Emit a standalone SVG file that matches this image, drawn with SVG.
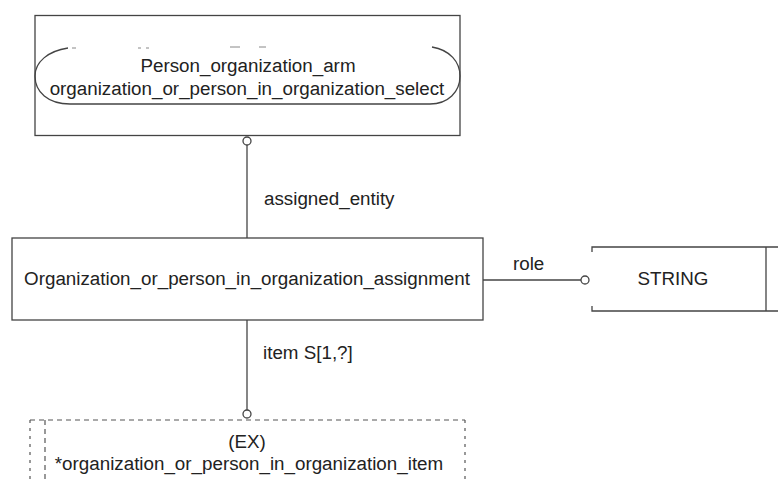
<svg xmlns="http://www.w3.org/2000/svg" width="778" height="480" viewBox="0 0 778 480">
<style>
.ln{fill:none;stroke:#444;stroke-width:1.3}
.txt{font-family:"Liberation Sans",Arial,sans-serif;font-size:18.8px;fill:#222}
.c{text-anchor:middle}
.dash{fill:none;stroke:#555;stroke-width:1.2;stroke-dasharray:5,4}
.dot{fill:none;stroke:#555;stroke-width:1.2;stroke-dasharray:3,5}
.frag{fill:none;stroke:#888;stroke-width:1}
</style>
<rect width="778" height="480" fill="#fff"/>
<g id="person_organization_select">
<rect class="ln" x="35" y="15.5" width="425" height="120"/>
<path class="ln" d="M68,48 C48,51 35,62 35,76 C35,92 48,104 70,104 L430,104 C448,104 460,92 460,76 C460,62 450,50 432,47"/>
<path class="frag" d="M72,48 L76,48 M138,48 L141,48 M146,48 L149,48 M230,47 L240,47 M259,47 L266,47"/>
<text class="txt c" x="248" y="72">Person_organization_arm</text>
<text class="txt c" x="247" y="95">organization_or_person_in_organization_select</text>
</g>
<g id="assignment">
<rect class="ln" x="12" y="238" width="471" height="82"/>
<text class="txt c" x="247" y="285">Organization_or_person_in_organization_assignment</text>
</g>
<g id="string">
<path class="ln" d="M592,252 L592,247 L778,247 M592,306 L592,311 L778,311 M766,247 L766,311"/>
<text class="txt c" x="673" y="285">STRING</text>
</g>
<g id="item_select">
<path class="dash" d="M30,420 L465,420"/>
<path class="dot" d="M30,420 L30,480 M465,420 L465,480"/>
<path class="dash" d="M45,420 L45,480" stroke-dasharray="6,3,1,3"/>
<text class="txt c" x="247" y="448">(EX)</text>
<text class="txt c" x="249" y="470">*organization_or_person_in_organization_item</text>
</g>
<g id="connectors">
<path class="ln" d="M247,145 L247,238"/>
<circle class="ln" cx="247" cy="141" r="4" fill="#fff"/>
<path class="ln" d="M483,280 L581,280"/>
<circle class="ln" cx="585" cy="280" r="4" fill="#fff"/>
<path class="ln" d="M247,320 L247,410"/>
<circle class="ln" cx="247" cy="414" r="4" fill="#fff"/>
<text class="txt" x="264" y="205">assigned_entity</text>
<text class="txt" x="513" y="270">role</text>
<text class="txt" x="263" y="359">item S[1,?]</text>
</g>
</svg>
